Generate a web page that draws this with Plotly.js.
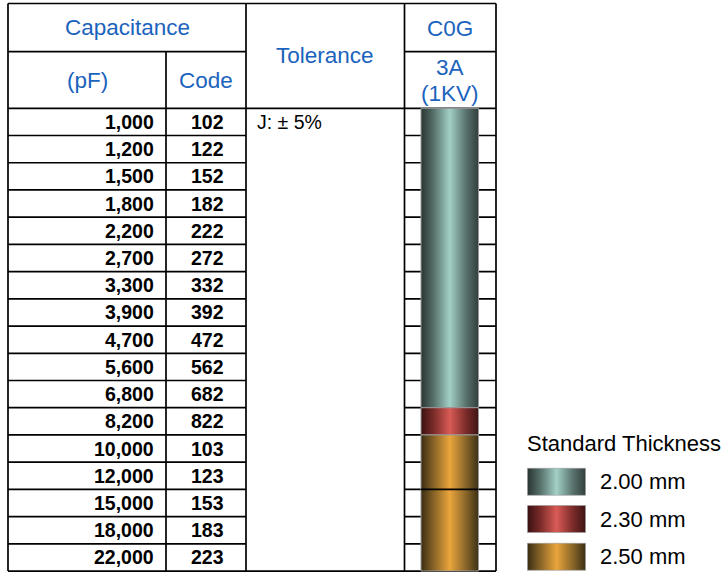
<!DOCTYPE html>
<html>
<head>
<meta charset="utf-8">
<script src="https://cdn.plot.ly/plotly-3.0.1.min.js"></script>
<style>html,body{margin:0;padding:0;background:#fff;}#chart{width:723px;height:572px;}</style>
</head>
<body>
<div id="chart"></div>
<script>
// ---- data ----
var capacitancePF = ['1,000','1,200','1,500','1,800','2,200','2,700','3,300','3,900','4,700','5,600','6,800','8,200','10,000','12,000','15,000','18,000','22,000'];
var codes = ['102','122','152','182','222','272','332','392','472','562','682','822','103','123','153','183','223'];
var thicknessMM = [2.00,2.00,2.00,2.00,2.00,2.00,2.00,2.00,2.00,2.00,2.00,2.30,2.50,2.50,2.50,2.50,2.50];
var tolerance = 'J: ± 5%';
var dielectric = 'C0G';
var voltageClass = ['3A', '(1KV)'];
var thicknessLevels = [2.00, 2.30, 2.50];
var thicknessLabels = ['2.00 mm', '2.30 mm', '2.50 mm'];
var segmentBreakRows = [14];

// ---- styles ----
var gradients = {
  '2': [[0,'#2a3533'],[0.22,'#56706a'],[0.5,'#a2d0c6'],[0.78,'#5a736e'],[1,'#323f3d']],
  '2.3': [[0,'#3a1111'],[0.22,'#7a2b29'],[0.5,'#d95b56'],[0.78,'#7c2c2a'],[1,'#3d1414']],
  '2.5': [[0,'#3a2d13'],[0.22,'#876327'],[0.5,'#eaa53c'],[0.78,'#8a6629'],[1,'#3d3016']]
};
var BLUE = '#1b63bd';
var FONT = 'Liberation Sans, Arial, Helvetica, sans-serif';
var rowTopPx = 108.3, rowHPx = 27.22;
function py(px){ return (px - rowTopPx) / rowHPx; }
var nRows = capacitancePF.length;
var X = {left:8, c1:166, c2:246, c3:404.5, right:496, barL:421, barR:478.5};
var yTop = py(3.5), yH1 = py(51.7), yH2 = 0, yBot = nRows;

var traces = [];
// bar segments from thickness data
var seg = [];
for (var i = 0; i < nRows; i++) {
  if (seg.length && seg[seg.length-1].t === thicknessMM[i]) seg[seg.length-1].e = i + 1;
  else seg.push({t: thicknessMM[i], s: i, e: i + 1});
}
seg.forEach(function(g){
  traces.push({
    type:'scatter', mode:'lines', x:[X.barL, X.barR, X.barR, X.barL, X.barL],
    y:[g.s, g.s, g.e, g.e, g.s], fill:'toself',
    fillgradient:{type:'horizontal', colorscale: gradients[String(g.t)], start: X.barL, stop: X.barR},
    line:{color:'#9a9a9a', width:1}, hoverinfo:'skip', showlegend:false
  });
});
// legend swatches
var swTop = [468.3, 505.5, 543.3], swH = 27;
thicknessLevels.forEach(function(t, k){
  var y0 = py(swTop[k]), y1 = py(swTop[k] + swH);
  traces.push({
    type:'scatter', mode:'lines', x:[527.5, 585.5, 585.5, 527.5, 527.5],
    y:[y0, y0, y1, y1, y0], fill:'toself',
    fillgradient:{type:'horizontal', colorscale: gradients[String(t)], start:527.5, stop:585.5},
    line:{color:'#9a9a9a', width:0.6}, hoverinfo:'skip', showlegend:false
  });
});

// grid shapes
var shapes = [];
function ln(x0,y0,x1,y1,layer){ shapes.push({type:'line', xref:'x', yref:'y', x0:x0, y0:y0, x1:x1, y1:y1, layer:layer||'below', line:{color:'#000', width:1.7}}); }
for (var r = 1; r < nRows; r++) { ln(X.left, r, X.c2, r); ln(X.c3, r, X.right, r); }
segmentBreakRows.forEach(function(r){ ln(X.barL, r, X.barR, r, 'above'); });
ln(X.left, yTop, X.right, yTop);
ln(X.left, yBot, X.right, yBot);
ln(X.left, yH2, X.right, yH2);
ln(X.left, yH1, X.c2, yH1);
ln(X.c3, yH1, X.right, yH1);
ln(X.left, yTop, X.left, yBot);
ln(X.c1, yH1, X.c1, yBot);
ln(X.c2, yTop, X.c2, yBot);
ln(X.c3, yTop, X.c3, yBot);
ln(X.right, yTop, X.right, yBot);

// annotations
var ann = [];
function txt(x, y, t, opt){
  opt = opt || {};
  ann.push({xref:'x', yref:'y', x:x, y:y, text:t, showarrow:false,
    xanchor: opt.xa || 'center', yanchor:'middle',
    font:{family:FONT, size: opt.size || 18, color: opt.color || '#000'}});
}
var hs = 22.5;
txt((X.left + X.c2)/2, py(27.5), 'Capacitance', {color:BLUE, size:hs});
txt((X.left + X.c1)/2, py(80), '(pF)', {color:BLUE, size:hs});
txt((X.c1 + X.c2)/2, py(80), 'Code', {color:BLUE, size:hs});
txt((X.c2 + X.c3)/2, py(55.5), 'Tolerance', {color:BLUE, size:hs});
txt((X.c3 + X.right)/2, py(28), dielectric, {color:BLUE, size:hs});
txt((X.c3 + X.right)/2, py(67), voltageClass[0], {color:BLUE, size:hs});
txt((X.c3 + X.right)/2, py(93.5), voltageClass[1], {color:BLUE, size:hs});
for (var i = 0; i < nRows; i++) {
  txt(156, i + 0.5, '<b>' + capacitancePF[i] + '</b>', {xa:'right', size:19.5});
  txt(207.5, i + 0.5, '<b>' + codes[i] + '</b>', {size:19.5});
}
txt(255, 0.5, tolerance, {xa:'left', size:19.5});
txt(525, py(443), 'Standard Thickness', {xa:'left', size:22});
thicknessLabels.forEach(function(l, k){ txt(598, py(swTop[k] + swH/2), l, {xa:'left', size:22}); });

var layout = {
  width:723, height:572, margin:{l:0, r:0, t:0, b:0},
  paper_bgcolor:'#fff', plot_bgcolor:'#fff', showlegend:false,
  xaxis:{range:[0,723], visible:false, fixedrange:true},
  yaxis:{range:[py(572), py(0)], visible:false, fixedrange:true},
  shapes:shapes, annotations:ann, hovermode:false
};
Plotly.newPlot('chart', traces, layout, {staticPlot:true, displayModeBar:false});
</script>
</body>
</html>
